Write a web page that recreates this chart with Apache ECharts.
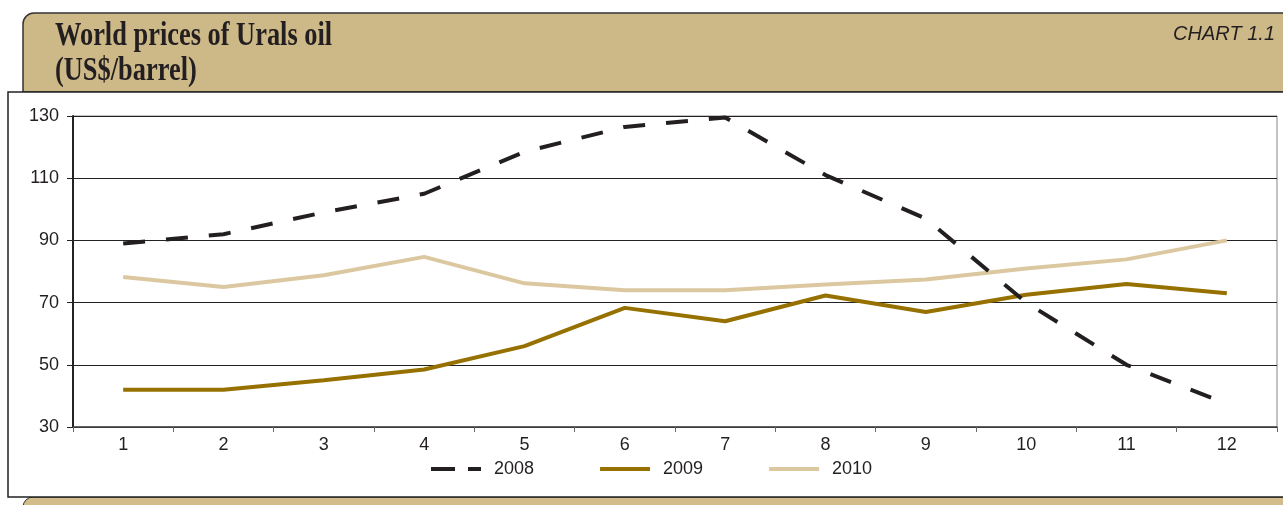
<!DOCTYPE html>
<html>
<head>
<meta charset="utf-8">
<script src="https://cdn.jsdelivr.net/npm/echarts@6/dist/echarts.min.js"></script>
<style>
html,body{margin:0;padding:0;background:#fff;}
#chart{width:1283px;height:505px;}
</style>
</head>
<body>
<div id="chart"></div>
<script>
const months = ['1','2','3','4','5','6','7','8','9','10','11','12'];
const seriesNames = ['2008','2009','2010'];
const y2008 = [89, 92, 99, 105, 118.5, 126.5, 129.5, 111, 97, 70, 50, 37.5];
const y2009 = [42, 42, 45, 48.5, 56, 68.3, 64, 72.3, 67, 72.5, 76, 73];
const y2010 = [78.2, 75, 78.8, 84.7, 76.2, 74, 74, 75.8, 77.4, 81, 83.9, 90];
const yTicks = {min: 30, max: 130, interval: 20};
const titleLines = ['World prices of Urals oil', '(US$/barrel)'];
const chartTag = 'CHART 1.1';

const chart = echarts.init(document.getElementById('chart'), null, {renderer: 'canvas'});
const fontSans = '"Liberation Sans", Arial, sans-serif';
const fontSerif = 'bold 33px "Liberation Serif", "Times New Roman", serif';
const colors = ['#231f20', '#967100', '#dcc8a0'];
const hiddenSymbol = {color: 'transparent', borderWidth: 0, opacity: 0};

chart.setOption({
  animation: false,
  backgroundColor: '#ffffff',
  graphic: [
    {type: 'rect', z: -20, shape: {x: 23, y: 13, width: 1280, height: 79, r: [11, 0, 0, 0]},
     style: {fill: '#cdb888', stroke: '#333', lineWidth: 1.5}},
    {type: 'rect', z: -20, shape: {x: 23, y: 497, width: 1280, height: 30, r: [10, 0, 0, 0]},
     style: {fill: '#d2bc8a', stroke: '#333', lineWidth: 1}},
    {type: 'rect', z: -15, shape: {x: 8, y: 92, width: 1290, height: 405},
     style: {fill: '#ffffff', stroke: '#222', lineWidth: 1.5}},
    {type: 'text', z: 10, x: 55, y: 36, scaleX: 0.8, style: {text: titleLines[0], font: fontSerif, fill: '#231f20', verticalAlign: 'middle', align: 'left'}},
    {type: 'text', z: 10, x: 55, y: 71, scaleX: 0.8, style: {text: titleLines[1], font: fontSerif, fill: '#231f20', verticalAlign: 'middle', align: 'left'}},
    {type: 'text', z: 10, x: 1275, y: 34, style: {text: chartTag, font: 'italic 20px ' + fontSans, fill: '#231f20', verticalAlign: 'middle', align: 'right'}}
  ],
  grid: {left: 73, right: 6, top: 116, bottom: 78, show: true, borderColor: '#888', borderWidth: 1, backgroundColor: 'transparent'},
  legend: {
    left: 424, top: 455, itemWidth: 50, itemHeight: 14, itemGap: 64,
    itemStyle: hiddenSymbol,
    textStyle: {fontSize: 18, fontFamily: fontSans, color: '#231f20', padding: [0, 0, 0, 8]},
    data: [
      {name: seriesNames[0], lineStyle: {type: [24, 13], width: 4}, itemStyle: hiddenSymbol},
      {name: seriesNames[1], lineStyle: {width: 4}, itemStyle: hiddenSymbol},
      {name: seriesNames[2], lineStyle: {width: 4}, itemStyle: hiddenSymbol}
    ]
  },
  xAxis: {
    type: 'category', data: months, boundaryGap: true,
    axisLine: {lineStyle: {color: '#444', width: 1.5}},
    axisTick: {show: true, length: 5, lineStyle: {color: '#666'}},
    axisLabel: {margin: 9, fontSize: 18, fontFamily: fontSans, color: '#231f20'},
    splitLine: {show: false}
  },
  yAxis: {
    type: 'value', min: yTicks.min, max: yTicks.max, interval: yTicks.interval,
    axisLine: {show: true, lineStyle: {color: '#222', width: 2}},
    axisTick: {show: true, length: 6, lineStyle: {color: '#222'}},
    axisLabel: {margin: 14, fontSize: 18, fontFamily: fontSans, color: '#231f20'},
    splitLine: {show: true, lineStyle: {color: '#222', width: 1}}
  },
  series: [
    {name: seriesNames[0], type: 'line', data: y2008, symbol: 'none', z: 4,
     lineStyle: {color: colors[0], width: 4, type: [22, 21]}, itemStyle: {color: colors[0]}},
    {name: seriesNames[1], type: 'line', data: y2009, symbol: 'none', z: 3,
     lineStyle: {color: colors[1], width: 4}, itemStyle: {color: colors[1]}},
    {name: seriesNames[2], type: 'line', data: y2010, symbol: 'none', z: 2,
     lineStyle: {color: colors[2], width: 4}, itemStyle: {color: colors[2]}}
  ]
});
</script>
</body>
</html>
